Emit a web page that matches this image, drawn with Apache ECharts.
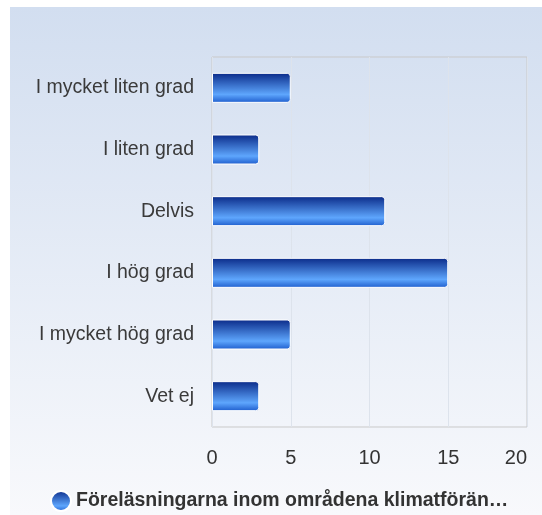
<!DOCTYPE html>
<html>
<head>
<meta charset="utf-8">
<script src="https://cdn.jsdelivr.net/npm/echarts@6/dist/echarts.min.js"></script>
<style>
  html, body { margin: 0; padding: 0; background: #fff; }
  #chart { width: 542px; height: 515px; }
</style>
</head>
<body>
<div id="chart"></div>
<script>
    // data
    var categories = ['I mycket liten grad', 'I liten grad', 'Delvis', 'I hög grad', 'I mycket hög grad', 'Vet ej'];
    var values = [5, 3, 11, 15, 5, 3];
    var seriesName = 'Föreläsningarna inom områdena klimatförän…';
    var xTicks = [0, 5, 10, 15, 20];

    var barColor = new echarts.graphic.LinearGradient(0, 0, 0, 1, [
        { offset: 0, color: '#0a2a88' },
        { offset: 0.72, color: '#5ea6fd' },
        { offset: 1, color: '#1d5ccc' }
    ]);

    var chart = echarts.init(document.getElementById('chart'), null, {
        renderer: 'canvas'
    });
    chart.setOption({
        animation: false,
        backgroundColor: '#ffffff',
        graphic: [
            {
                type: 'rect',
                z: -10,
                silent: true,
                shape: { x: 10, y: 7, width: 532, height: 508 },
                style: {
                    fill: new echarts.graphic.LinearGradient(0, 0, 0, 1, [
                        { offset: 0, color: '#d2def0' },
                        { offset: 1, color: '#f8f9fc' }
                    ])
                }
            }
        ],
        grid: {
            left: 212,
            top: 57,
            right: 15,
            bottom: 88,
            show: true,
            borderColor: '#c9c9c9',
            borderWidth: 1,
            backgroundColor: 'transparent'
        },
        legend: {
            left: 45,
            top: 485,
            icon: 'circle',
            itemWidth: 20,
            itemHeight: 20,
            itemGap: 6,
            textStyle: {
                fontFamily: 'Liberation Sans, Arial, sans-serif',
                fontSize: 19.5,
                fontWeight: 'bold',
                color: '#333333'
            },
            data: [seriesName]
        },
        xAxis: {
            type: 'value',
            min: xTicks[0],
            max: xTicks[xTicks.length - 1],
            interval: 5,
            axisLine: { show: false },
            axisTick: { show: false },
            splitLine: {
                show: true,
                lineStyle: { color: '#dde3ec', width: 1 }
            },
            axisLabel: {
                margin: 21,
                alignMaxLabel: 'right',
                fontFamily: 'Liberation Sans, Arial, sans-serif',
                fontSize: 20,
                color: '#333333'
            }
        },
        yAxis: {
            type: 'category',
            inverse: true,
            data: categories,
            axisLine: { show: false },
            axisTick: { show: false },
            splitLine: { show: false },
            axisLabel: {
                margin: 18,
                fontFamily: 'Liberation Sans, Arial, sans-serif',
                fontSize: 19.5,
                color: '#3a3a3a'
            }
        },
        series: [
            {
                name: seriesName,
                type: 'bar',
                barWidth: 30,
                data: values,
                itemStyle: {
                    color: barColor,
                    borderColor: '#ffffff',
                    borderWidth: 1,
                    borderRadius: [0, 3, 3, 0]
                }
            }
        ]
    });
</script>
</body>
</html>
